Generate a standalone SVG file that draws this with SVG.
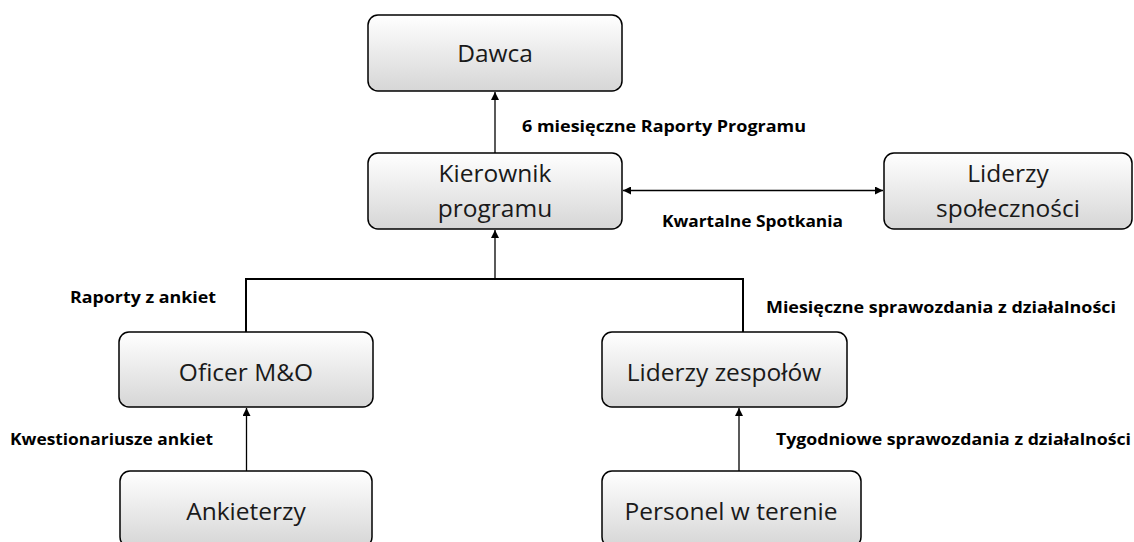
<svg xmlns="http://www.w3.org/2000/svg" width="1134" height="542" viewBox="0 0 1134 542">
<style>
.box{fill:url(#g);stroke:#000;stroke-width:1.5}
.nt{font-family:"Open Sans","Liberation Sans",sans-serif;font-size:24.5px;fill:#1a1a1a;text-anchor:middle}
.lb{font-family:"Open Sans","Liberation Sans",sans-serif;font-size:16.5px;font-weight:bold;fill:#000}
.ln{fill:none;stroke:#000;stroke-width:1.3}
.bus{fill:none;stroke:#000;stroke-width:2}
</style>
<defs>
<linearGradient id="g" x1="0" y1="0" x2="0" y2="1">
<stop offset="0" stop-color="#ffffff"/>
<stop offset="1" stop-color="#d6d6d6"/>
</linearGradient>
<marker id="ah" viewBox="0 0 10 10" refX="10" refY="5" markerWidth="9" markerHeight="8" markerUnits="userSpaceOnUse" orient="auto-start-reverse">
<path d="M0,0 L10,5 L0,10 z" fill="#000"/>
</marker>
</defs>
<g id="connectors">
<line class="ln" x1="495" y1="153" x2="495" y2="92" marker-end="url(#ah)"/>
<line class="ln" x1="623" y1="190.5" x2="883" y2="190.5" marker-start="url(#ah)" marker-end="url(#ah)"/>
<polyline class="bus" points="246,332 246,279 743,279 743,332"/>
<line class="ln" x1="495" y1="279" x2="495" y2="230" marker-end="url(#ah)"/>
<line class="ln" x1="246.5" y1="471" x2="246.5" y2="408" marker-end="url(#ah)"/>
<line class="ln" x1="739" y1="471" x2="739" y2="408" marker-end="url(#ah)"/>
<text class="lb" x="522" y="132" textLength="284" lengthAdjust="spacingAndGlyphs">6 miesięczne Raporty Programu</text>
<text class="lb" x="662" y="227" textLength="181" lengthAdjust="spacingAndGlyphs">Kwartalne Spotkania</text>
<text class="lb" x="70" y="303" textLength="146" lengthAdjust="spacingAndGlyphs">Raporty z ankiet</text>
<text class="lb" x="766" y="313" textLength="350" lengthAdjust="spacingAndGlyphs">Miesięczne sprawozdania z działalności</text>
<text class="lb" x="10" y="445" textLength="203" lengthAdjust="spacingAndGlyphs">Kwestionariusze ankiet</text>
<text class="lb" x="776" y="445" textLength="355" lengthAdjust="spacingAndGlyphs">Tygodniowe sprawozdania z działalności</text>
</g>
<g id="dawca">
<rect class="box" x="368" y="15" width="254" height="76" rx="10"/>
<text class="nt" x="495" y="62">Dawca</text>
</g>
<g id="kierownik">
<rect class="box" x="368" y="153" width="254" height="76" rx="10"/>
<text class="nt" x="495" y="182">Kierownik</text>
<text class="nt" x="495" y="217">programu</text>
</g>
<g id="liderzy-spolecznosci">
<rect class="box" x="884" y="153" width="248" height="76" rx="10"/>
<text class="nt" x="1008" y="182">Liderzy</text>
<text class="nt" x="1008" y="217">społeczności</text>
</g>
<g id="oficer">
<rect class="box" x="119" y="332" width="254" height="75" rx="10"/>
<text class="nt" x="246" y="381">Oficer M&amp;O</text>
</g>
<g id="liderzy-zespolow">
<rect class="box" x="602" y="332" width="245" height="75" rx="10"/>
<text class="nt" x="724" y="381">Liderzy zespołów</text>
</g>
<g id="ankieterzy">
<rect class="box" x="120" y="471" width="252" height="76" rx="10"/>
<text class="nt" x="246" y="520">Ankieterzy</text>
</g>
<g id="personel">
<rect class="box" x="602" y="471" width="259" height="76" rx="10"/>
<text class="nt" x="731" y="520">Personel w terenie</text>
</g>
</svg>
